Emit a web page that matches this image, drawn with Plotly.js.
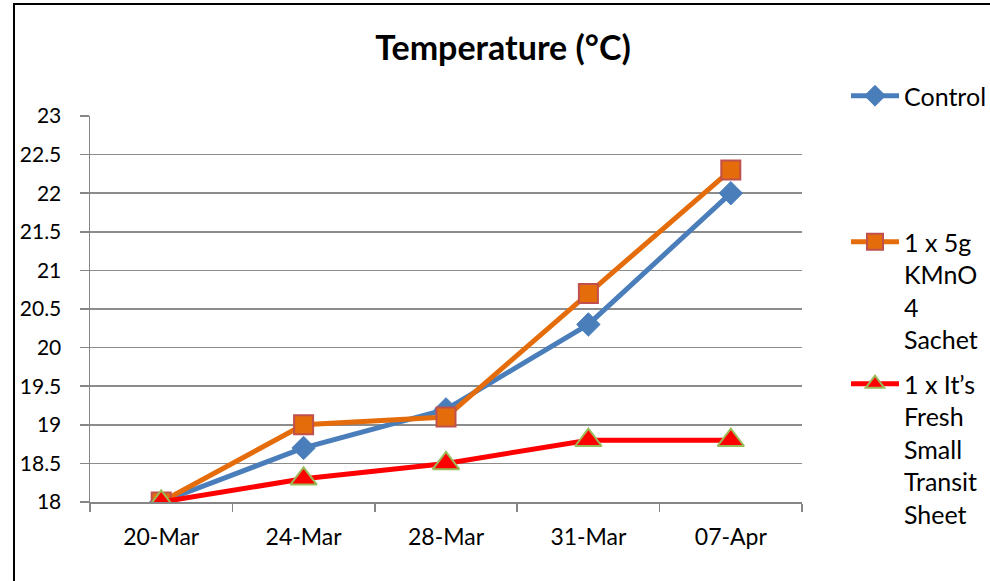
<!DOCTYPE html>
<html>
<head>
<meta charset="utf-8">
<script src="https://cdn.plot.ly/plotly-3.0.1.min.js"></script>
<style>
html,body{margin:0;padding:0;background:#fff;}
#chart{width:990px;height:581px;position:relative;}
#frame{position:absolute;left:13px;top:3px;width:1200px;height:800px;border-left:2px solid #000;border-top:2px solid #000;pointer-events:none;}
</style>
</head>
<body>
<div id="chart"></div>
<div id="frame"></div>
<script>
const dates = ["20-Mar", "24-Mar", "28-Mar", "31-Mar", "07-Apr"];
const control = [18, 18.7, 19.2, 20.3, 22];
const kmno4 = [18, 19, 19.1, 20.7, 22.3];
const itsFresh = [18, 18.3, 18.5, 18.8, 18.8];
const seriesNames = ["Control", "1 x 5g<br>KMnO<br>4<br>Sachet", "1 x It\u2019s<br>Fresh<br>Small<br>Transit<br>Sheet"];

const FONT = "Lato, 'Open Sans', sans-serif";

const traces = [
  {x: dates, y: control, name: seriesNames[0], mode: "lines+markers", legend: "legend",
   line: {color: "#4a7ebb", width: 5},
   marker: {symbol: "diamond", size: 18, color: "#4a7ebb", line: {color: "#4a7ebb", width: 1}}},
  {x: dates, y: kmno4, name: seriesNames[1], mode: "lines+markers", legend: "legend2",
   line: {color: "#e46c0a", width: 5},
   marker: {symbol: "square", size: 19, color: "#e46c0a", line: {color: "#c0504d", width: 2}}},
  {x: dates, y: itsFresh, name: seriesNames[2], mode: "lines+markers", legend: "legend3",
   line: {color: "#ff0000", width: 5},
   marker: {symbol: "triangle-up", size: 23, color: "#ff0000", line: {color: "#9bbb59", width: 2}}}
];

const legendBase = {
  xref: "container", yref: "container", xanchor: "left", yanchor: "top",
  x: 846/990, bgcolor: "rgba(0,0,0,0)", borderwidth: 0,
  font: {family: FONT, size: 25, color: "#000"}, valign: "top", itemwidth: 48,
  tracegroupgap: 0
};

const layout = {
  width: 990, height: 581,
  margin: {l: 90, r: 188, t: 116, b: 79},
  paper_bgcolor: "#fff", plot_bgcolor: "#fff",
  font: {family: FONT, size: 21, color: "#000"},
  title: {text: "<b>Temperature (°C)</b>", font: {family: FONT, size: 34, color: "#000"},
          x: 503/990, xref: "container", xanchor: "center", y: 1 - 48/581, yref: "container", yanchor: "middle"},
  xaxis: {type: "category", range: [-0.5, 4.5], showgrid: false, showline: true, linecolor: "#868686", linewidth: 1.5,
          ticks: "outside", tickson: "boundaries", ticklen: 8, tickcolor: "#868686", tickwidth: 1.5,
          ticklabelstandoff: 14,
          tickfont: {family: FONT, size: 23, color: "#000"}, zeroline: false, fixedrange: true},
  yaxis: {range: [18, 23], dtick: 0.5, tick0: 18, showgrid: true, gridcolor: "#8c8c8c", gridwidth: 1.5,
          showline: true, linecolor: "#868686", linewidth: 1.5, ticks: "outside", ticklen: 9,
          tickcolor: "#868686", tickwidth: 1.5, ticklabelstandoff: 14,
          tickfont: {family: FONT, size: 21, color: "#000"}, zeroline: false, fixedrange: true},
  showlegend: true,
  legend: Object.assign({}, legendBase, {y: 1 - 73/581}),
  legend2: Object.assign({}, legendBase, {y: 1 - 219/581}),
  legend3: Object.assign({}, legendBase, {y: 1 - 361/581})
};

Plotly.newPlot("chart", traces, layout, {displayModeBar: false, staticPlot: true});
</script>
</body>
</html>
